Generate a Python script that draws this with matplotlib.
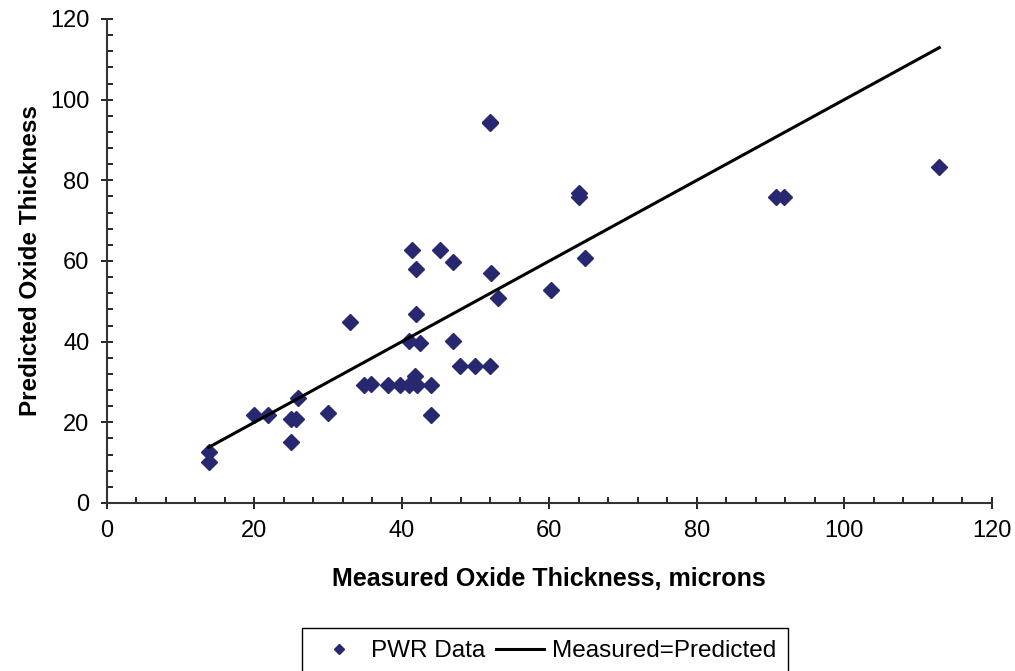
import matplotlib.pyplot as plt
from matplotlib.ticker import MultipleLocator

plt.rcParams['font.family'] = ['Liberation Sans', 'DejaVu Sans']

# PWR data: measured vs predicted oxide thickness (microns)
medido = [13.8, 13.8, 20.0, 21.8, 24.9, 25.7, 24.9, 25.9, 30.0, 32.9,
          34.8, 35.8, 38.1, 39.7, 40.9, 42.0, 41.8, 40.9, 42.4, 41.9,
          41.4, 41.9, 44.0, 44.0, 45.2, 47.0, 47.0, 47.9, 49.9, 51.9,
          52.0, 52.0, 52.1, 53.0, 60.2, 64.0, 64.0, 64.8, 90.8, 91.8,
          112.9]
previsto = [12.6, 10.2, 21.8, 21.8, 20.7, 20.7, 15.2, 26.0, 22.3, 44.9,
            29.3, 29.5, 29.3, 29.3, 29.3, 29.3, 31.4, 40.2, 39.6, 46.8,
            62.7, 57.9, 29.3, 21.8, 62.7, 59.8, 40.2, 34.0, 34.0, 34.0,
            94.1, 94.4, 57.1, 50.9, 52.8, 76.8, 75.8, 60.8, 75.9, 75.9,
            83.4]

# linha Measured=Predicted passando pelos valores medidos
linha_x = sorted(medido)
linha_y = linha_x

fig = plt.figure(figsize=(10.15, 6.71), dpi=100)
ax = fig.add_axes([0.1054, 0.2504, 0.8716, 0.7213])

ax.plot(medido, previsto, linestyle='none', marker='D', markersize=8,
        color='#27286F', label='PWR Data')
ax.plot(linha_x, linha_y, color='black', linewidth=2.2, label='Measured=Predicted')

ax.set_xlim(0, 120)
ax.set_ylim(0, 120)
ax.xaxis.set_major_locator(MultipleLocator(20))
ax.yaxis.set_major_locator(MultipleLocator(20))
ax.xaxis.set_minor_locator(MultipleLocator(4))
ax.yaxis.set_minor_locator(MultipleLocator(4))
ax.tick_params(which='major', direction='inout', length=9, width=1.2,
               labelsize=17, pad=8)
ax.tick_params(which='minor', direction='in', length=4.5, width=1.2)

for lado in ['top', 'right']:
    ax.spines[lado].set_visible(False)
for lado in ['left', 'bottom']:
    ax.spines[lado].set_linewidth(1.5)
    ax.spines[lado].set_color('#333333')

ax.set_xlabel('Measured Oxide Thickness, microns', fontsize=18,
              fontweight='bold', labelpad=18)
ax.set_ylabel('Predicted Oxide Thickness', fontsize=17.5,
              fontweight='bold', labelpad=6)

fig.legend(loc='upper left', bbox_to_anchor=(0.298, 0.064), ncol=2,
           fontsize=17.5, frameon=True, fancybox=False, edgecolor='black',
           framealpha=1, handlelength=2.0, handletextpad=0.3,
           columnspacing=0.45, borderpad=0.5, borderaxespad=0,
           markerscale=0.6)

plt.savefig('out.png', dpi=100)
